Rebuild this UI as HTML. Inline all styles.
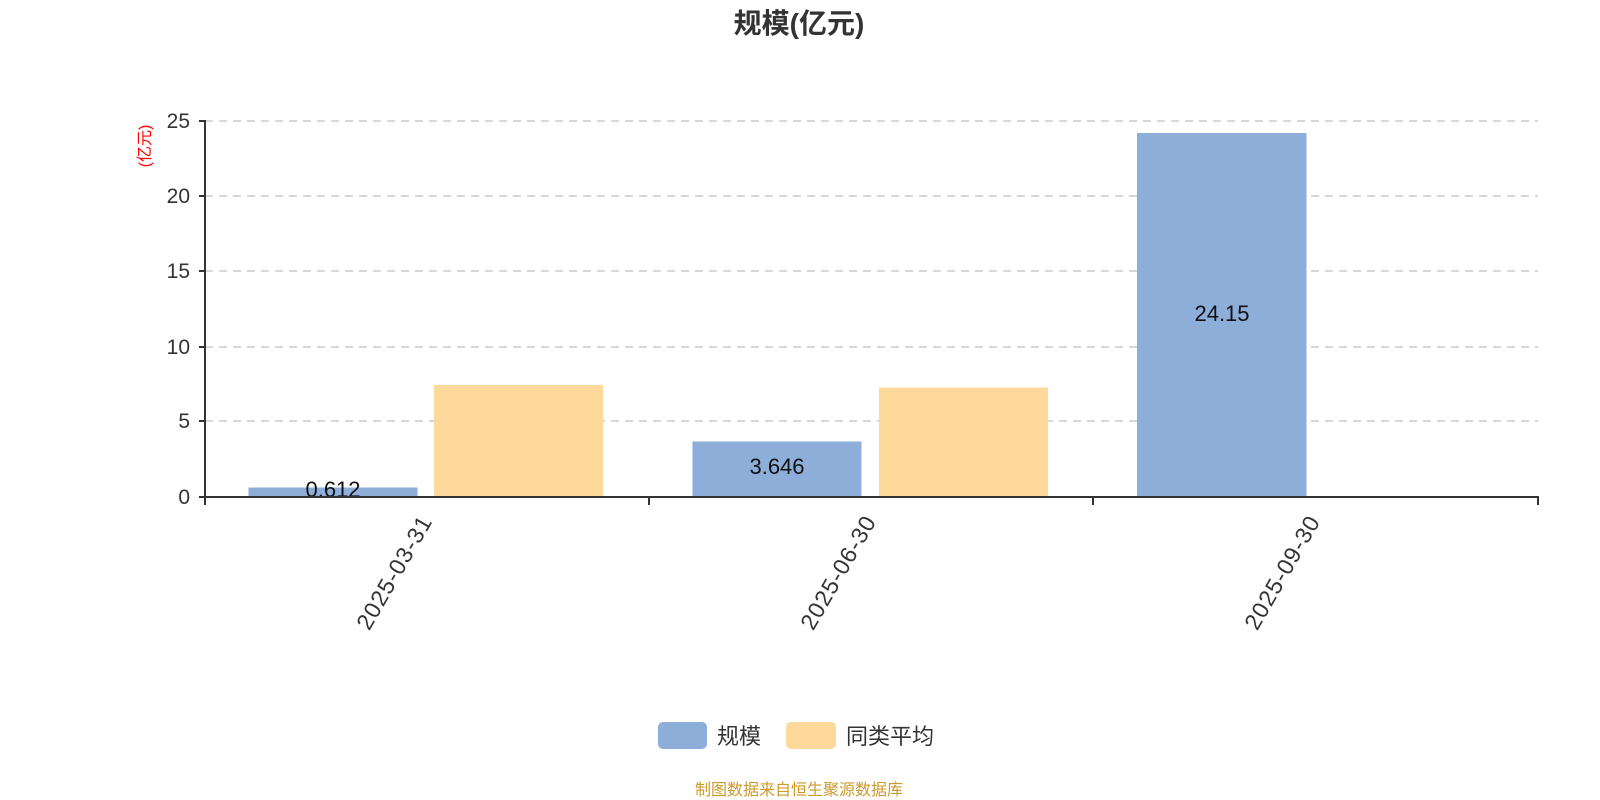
<!DOCTYPE html>
<html><head><meta charset="utf-8"><style>
html,body{margin:0;padding:0;background:#fff;}
svg{display:block;font-family:"Liberation Sans","Noto Sans CJK SC",sans-serif;}
</style></head><body>
<svg width="1600" height="800" viewBox="0 0 1600 800" xmlns="http://www.w3.org/2000/svg">
<text x="799" y="33" text-anchor="middle" font-size="28" font-weight="bold" fill="#333">规模(亿元)</text>
<g stroke="#ccc" stroke-width="1.5" stroke-dasharray="8,6">
<line x1="205" y1="121" x2="1538" y2="121"/>
<line x1="205" y1="196" x2="1538" y2="196"/>
<line x1="205" y1="271" x2="1538" y2="271"/>
<line x1="205" y1="347" x2="1538" y2="347"/>
<line x1="205" y1="421" x2="1538" y2="421"/>
</g>
<g>
<rect x="248.5" y="487.5" width="169" height="9.5" fill="#8daed9"/>
<rect x="434" y="385" width="169" height="112" fill="#fed99b"/>
<rect x="692.5" y="441.5" width="169" height="55.5" fill="#8daed9"/>
<rect x="879" y="387.5" width="169" height="109.5" fill="#fed99b"/>
<rect x="1137" y="133" width="169.5" height="364" fill="#8daed9"/>
</g>
<g font-size="22" fill="#111" text-anchor="middle">
<text x="333" y="497">0.612</text>
<text x="777" y="474">3.646</text>
<text x="1222" y="321">24.15</text>
</g>
<g stroke="#333" stroke-width="2" fill="none">
<line x1="205" y1="120" x2="205" y2="505"/>
<line x1="199" y1="497" x2="1539" y2="497"/>
<line x1="199" y1="121" x2="205" y2="121"/>
<line x1="199" y1="196" x2="205" y2="196"/>
<line x1="199" y1="271" x2="205" y2="271"/>
<line x1="199" y1="347" x2="205" y2="347"/>
<line x1="199" y1="421" x2="205" y2="421"/>
<line x1="649" y1="497" x2="649" y2="505"/>
<line x1="1093" y1="497" x2="1093" y2="505"/>
<line x1="1538" y1="497" x2="1538" y2="505"/>
</g>
<g font-size="21" fill="#333" text-anchor="end">
<text x="190" y="128">25</text>
<text x="190" y="203">20</text>
<text x="190" y="278">15</text>
<text x="190" y="354">10</text>
<text x="190" y="428">5</text>
<text x="190" y="504">0</text>
</g>
<text transform="translate(150,146) rotate(-90)" text-anchor="middle" font-size="16" fill="#f00">(亿元)</text>
<g font-size="23" fill="#333" text-anchor="end" letter-spacing="1">
<text transform="translate(433,521) rotate(-60)">2025-03-31</text>
<text transform="translate(877,521) rotate(-60)">2025-06-30</text>
<text transform="translate(1321,521) rotate(-60)">2025-09-30</text>
</g>
<rect x="658" y="722" width="49" height="27" rx="5" fill="#8daed9"/>
<text x="717" y="744" font-size="22" fill="#333">规模</text>
<rect x="786" y="722" width="50" height="27" rx="5" fill="#fed99b"/>
<text x="846" y="744" font-size="22" fill="#333">同类平均</text>
<text x="799" y="795" text-anchor="middle" font-size="16" fill="#cc9a2a">制图数据来自恒生聚源数据库</text>
</svg>
</body></html>
